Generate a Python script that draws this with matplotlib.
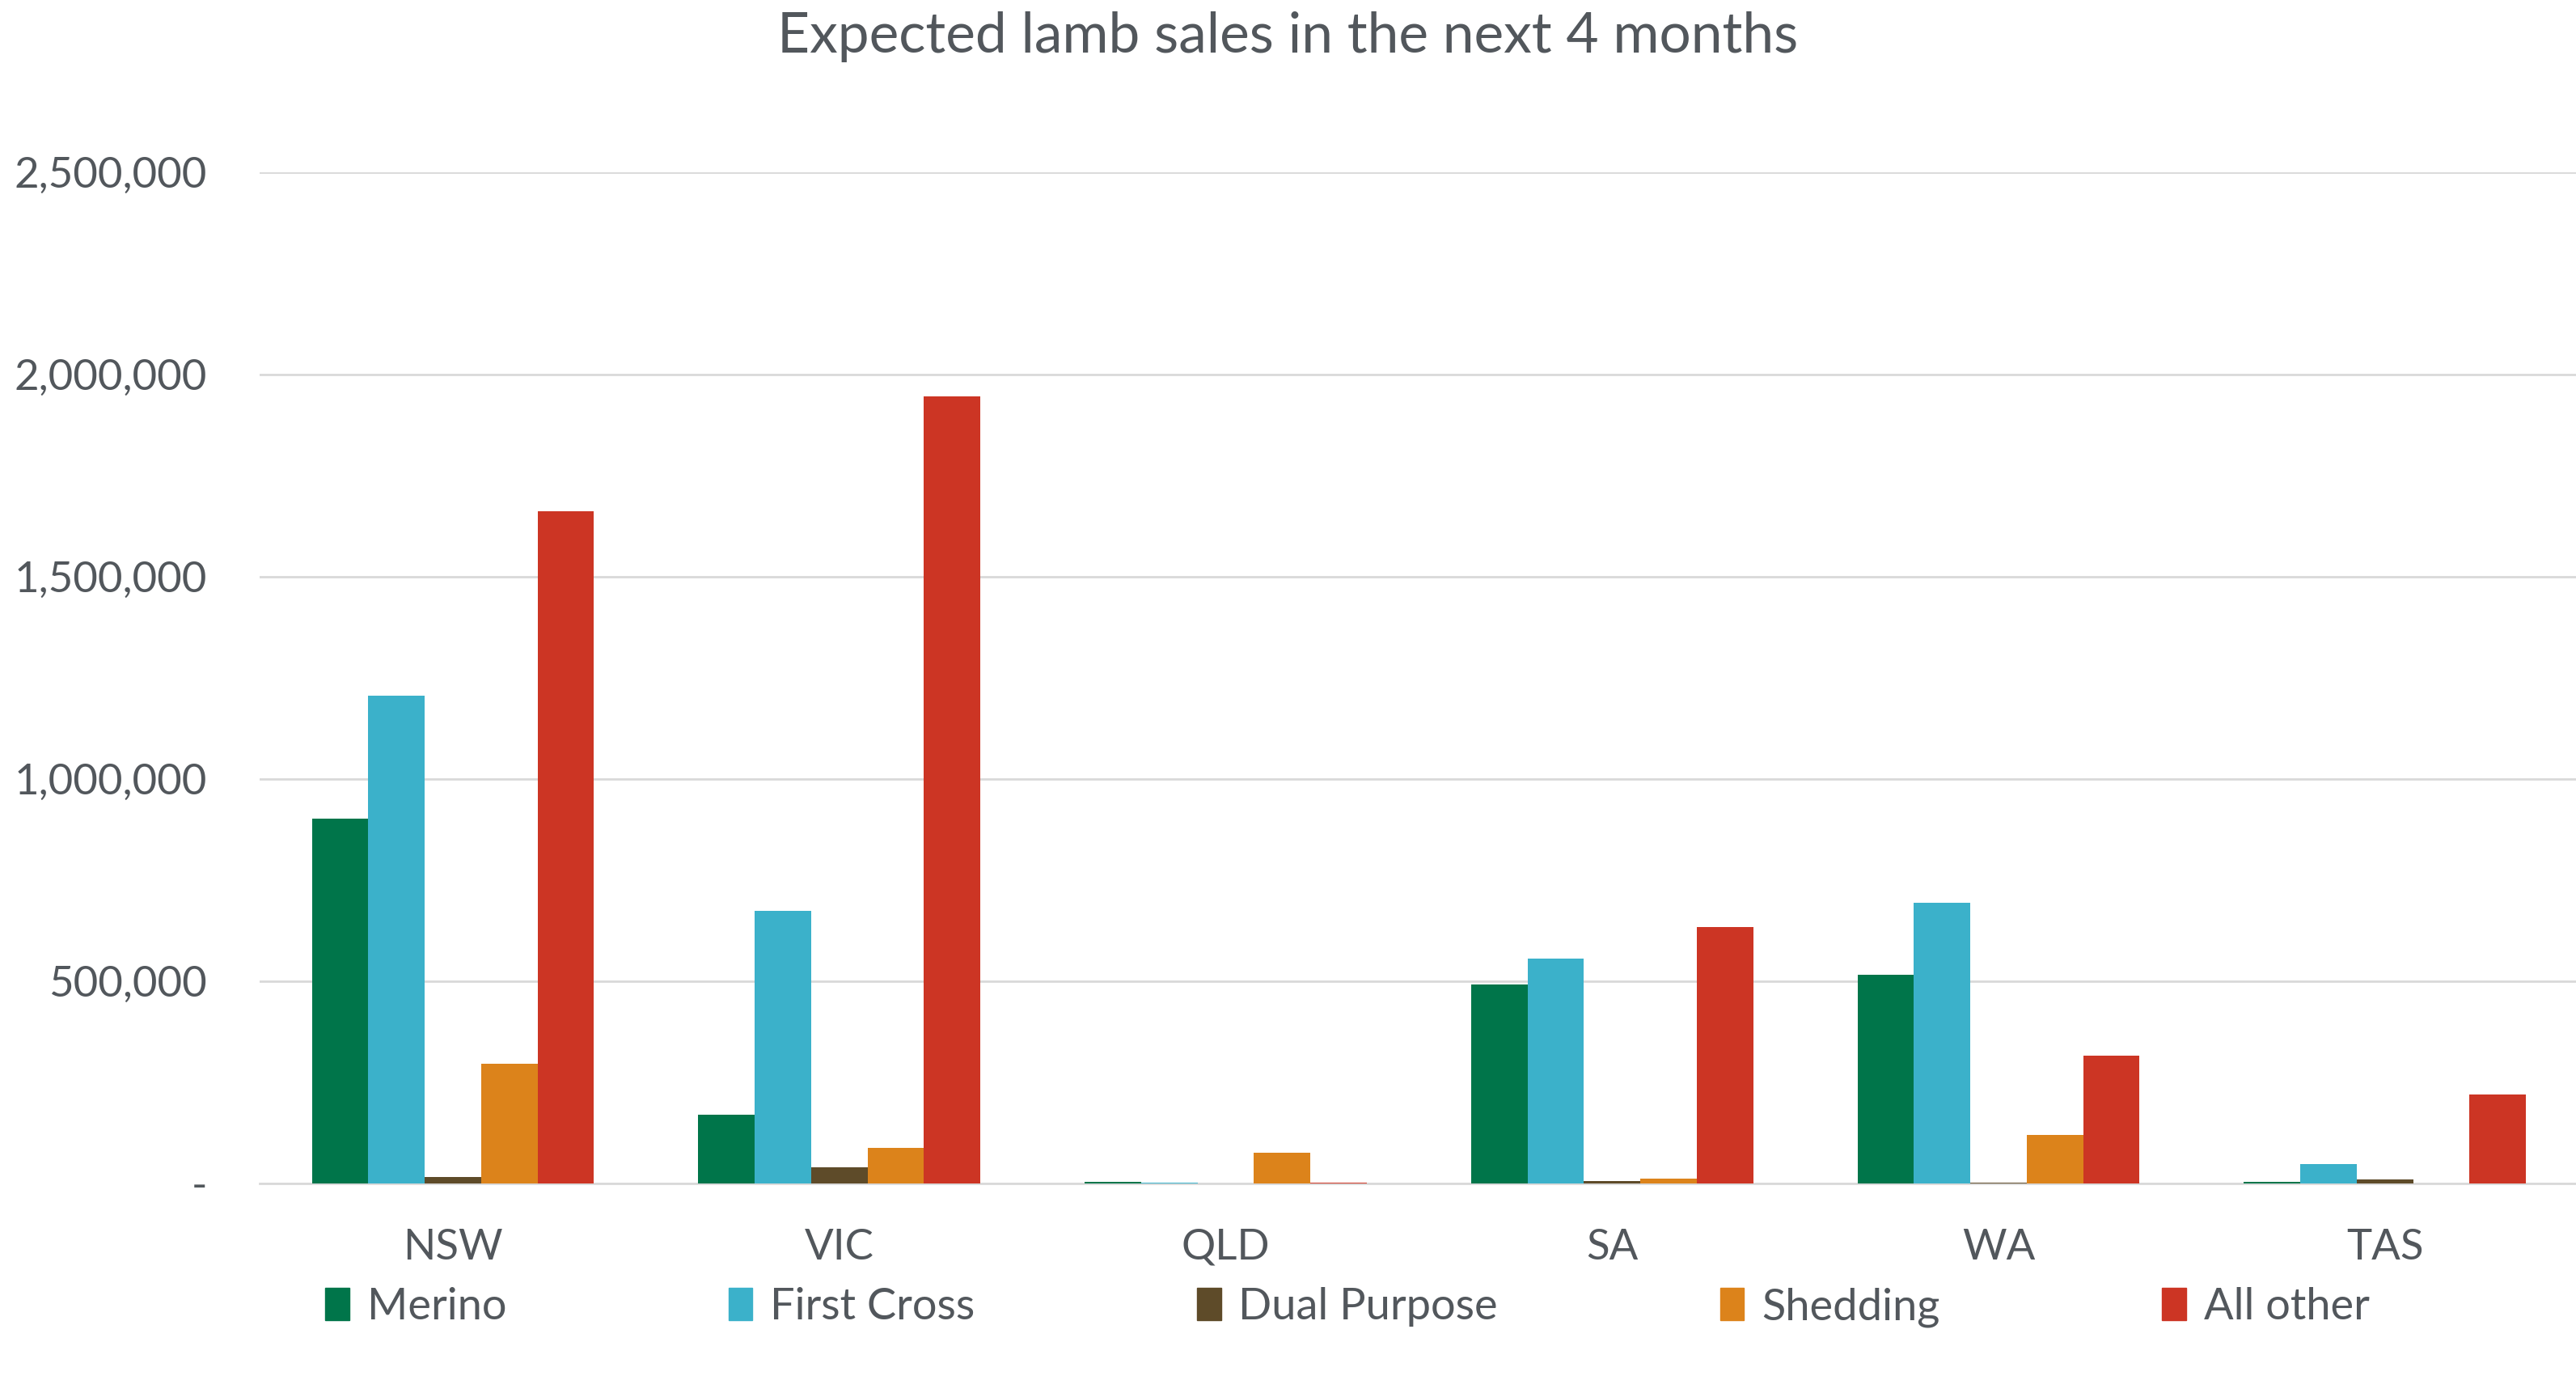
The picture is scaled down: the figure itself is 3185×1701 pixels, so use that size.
import numpy as np
import matplotlib
matplotlib.use("Agg")
import matplotlib.pyplot as plt
from matplotlib.ticker import FuncFormatter
from matplotlib.patches import Patch

states = ["NSW", "VIC", "QLD", "SA", "WA", "TAS"]
breeds = ["Merino", "First Cross", "Dual Purpose", "Shedding", "All other"]
merino = [902000, 171000, 4000, 492000, 516000, 5000]
first_cross = [1207000, 675000, 2000, 557000, 695000, 48000]
dual_purpose = [16000, 41000, 0, 6000, 2000, 11000]
shedding = [297000, 89000, 77000, 12000, 120000, 0]
all_other = [1663000, 1947000, 3000, 634000, 317000, 221000]
colors = ["#00754A", "#3BB1CA", "#5E4B29", "#DC831B", "#CC3524"]

series = [merino, first_cross, dual_purpose, shedding, all_other]

plt.rcParams['font.family'] = ['Lato', 'DejaVu Sans']
text_col = "#52575C"

fig = plt.figure(figsize=(31.85, 17.01), dpi=100)
ax = fig.add_axes([0.1008, 0.1398, 0.9, 0.7348])

x = np.arange(len(states))
w = 0.146
for i, vals in enumerate(series):
    ax.bar(x + (i - 2) * w, vals, width=w, color=colors[i], zorder=3)

ax.set_xlim(-0.5, 5.5)
ax.set_ylim(0, 2500000)
ax.set_yticks(np.arange(0, 2500001, 500000))
ax.yaxis.set_major_formatter(FuncFormatter(lambda v, p: "-" if v == 0 else f"{int(v):,}"))
ax.grid(axis="y", color="#D9D9D9", linewidth=2, zorder=0)
for s in ["top", "right", "left"]:
    ax.spines[s].set_visible(False)
ax.spines["bottom"].set_color("#D9D9D9")
ax.spines["bottom"].set_linewidth(2)
ax.tick_params(length=0, labelsize=38, colors=text_col)
ax.tick_params(axis="y", pad=47)
ax.tick_params(axis="x", pad=40)
ax.set_xticks(x)
ax.set_xticklabels(states)

fig.suptitle("Expected lamb sales in the next 4 months", fontsize=50, color=text_col, y=0.992)

handles = [Patch(color=c) for c in colors]
fig.legend(handles, breeds, loc="center", bbox_to_anchor=(0.523, 0.05), ncol=5,
           frameon=False, fontsize=39, labelcolor=text_col, handlelength=0.55,
           handleheight=0.75, handletextpad=0.4, columnspacing=5.07)

fig.savefig("out.png", dpi=100)
